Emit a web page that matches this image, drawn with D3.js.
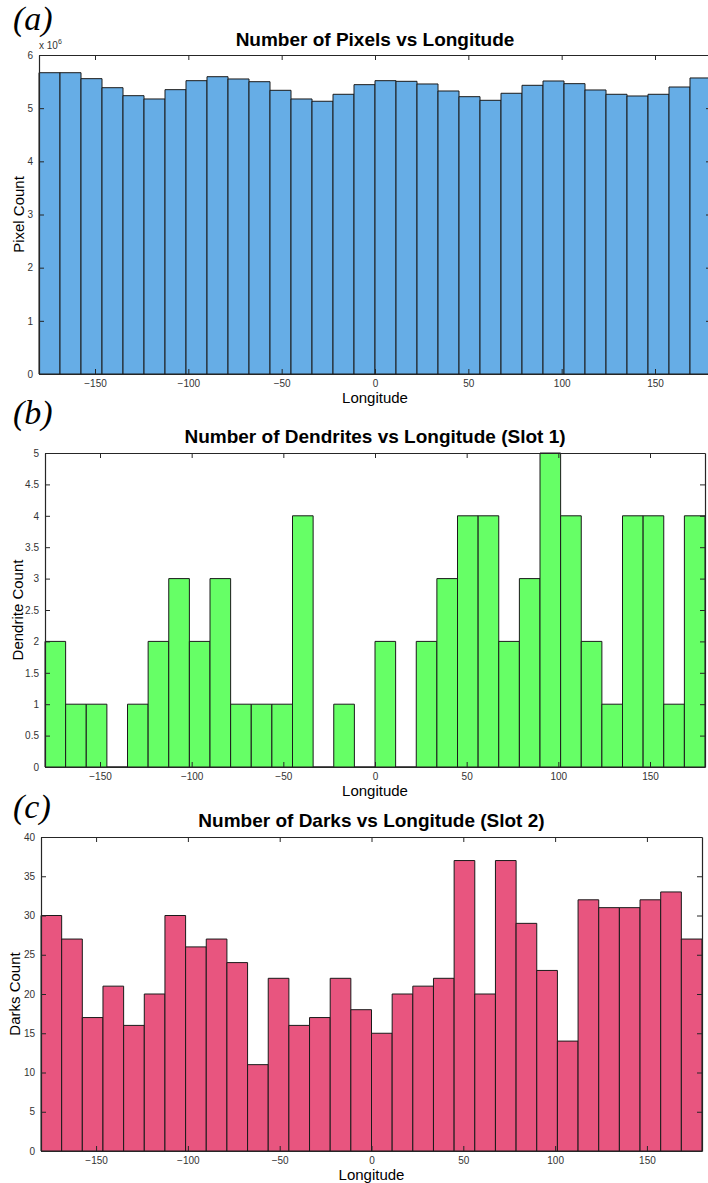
<!DOCTYPE html>
<html>
<head>
<meta charset="utf-8">
<script src="https://cdn.jsdelivr.net/npm/d3@7"></script>
<style>
	body { margin: 0; background: #fff; }
	svg { display: block; }
</style>
</head>
<body>
<script>
// DATA
const binWidth = 11.25;
const binStarts = [-180, -168.75, -157.5, -146.25, -135, -123.75, -112.5, -101.25,
	-90, -78.75, -67.5, -56.25, -45, -33.75, -22.5, -11.25,
	0, 11.25, 22.5, 33.75, 45, 56.25, 67.5, 78.75,
	90, 101.25, 112.5, 123.75, 135, 146.25, 157.5, 168.75];
const xTicks = [-150, -100, -50, 0, 50, 100, 150];

// pixel counts in units of 10^6
const pixelCounts = [5.667, 5.667, 5.555, 5.385, 5.235, 5.173, 5.348, 5.517,
	5.592, 5.549, 5.498, 5.336, 5.173, 5.13, 5.261, 5.442,
	5.517, 5.505, 5.455, 5.323, 5.216, 5.148, 5.28, 5.43,
	5.511, 5.461, 5.342, 5.261, 5.229, 5.261, 5.398, 5.568];
const pixelTicks = [0, 1, 2, 3, 4, 5, 6];

const dendriteCounts = [2, 1, 1, 0, 1, 2, 3, 2,
	3, 1, 1, 1, 4, 0, 1, 0,
	2, 0, 2, 3, 4, 4, 2, 3,
	5, 4, 2, 1, 4, 4, 1, 4];
const dendriteTicks = [0, 0.5, 1, 1.5, 2, 2.5, 3, 3.5, 4, 4.5, 5];

const darkCounts = [30, 27, 17, 21, 16, 20, 30, 26,
	27, 24, 11, 22, 16, 17, 22, 18,
	15, 20, 21, 22, 37, 20, 37, 29,
	23, 14, 32, 31, 31, 32, 33, 27];
const darkTicks = [0, 5, 10, 15, 20, 25, 30, 35, 40];

// CONFIGURATION
const width = 708;
const height = 1183;
const tickLen = 5;
const axisColor = '#262626';
const sans = 'Liberation Sans, Arial, sans-serif';

const panels = [
	{
		tag: '(a)', tagY: 30,
		title: 'Number of Pixels vs Longitude', titleY: 46,
		ylabel: 'Pixel Count', ylabelX: 24,
		values: pixelCounts, yTicks: pixelTicks, fill: '#66ade6',
		left: 39, right: 711, top: 55, bottom: 374, exponent: '6'
	},
	{
		tag: '(b)', tagY: 424,
		title: 'Number of Dendrites vs Longitude (Slot 1)', titleY: 443,
		ylabel: 'Dendrite Count', ylabelX: 23,
		values: dendriteCounts, yTicks: dendriteTicks, fill: '#66ff66',
		left: 45, right: 705, top: 453, bottom: 767
	},
	{
		tag: '(c)', tagY: 818,
		title: 'Number of Darks vs Longitude (Slot 2)', titleY: 827,
		ylabel: 'Darks Count', ylabelX: 20,
		values: darkCounts, yTicks: darkTicks, fill: '#e8557f',
		left: 41, right: 702, top: 837, bottom: 1151
	}
];

// SVG
const svg = d3.select('body')
	.append('svg')
	.attr('width', width)
	.attr('height', height)
	.attr('font-family', sans);

panels.forEach(function(p) {
	const g = svg.append('g');
	const xScale = d3.scaleLinear()
		.domain([-180, 180])
		.range([p.left, p.right]);
	const yScale = d3.scaleLinear()
		.domain([p.yTicks[0], p.yTicks[p.yTicks.length - 1]])
		.range([p.bottom, p.top]);
	const midX = (p.left + p.right) / 2;

	// PANEL TAG
	g.append('text')
		.attr('x', 13)
		.attr('y', p.tagY)
		.attr('font-family', 'Liberation Serif, Times New Roman, serif')
		.attr('font-style', 'italic')
		.attr('font-size', 34)
		.attr('fill', '#000')
		.text(p.tag);

	// TITLE
	g.append('text')
		.attr('x', midX)
		.attr('y', p.titleY)
		.attr('text-anchor', 'middle')
		.attr('font-family', sans)
		.attr('font-weight', 'bold')
		.attr('font-size', 19)
		.attr('fill', '#000')
		.text(p.title);

	// BARS
	g.selectAll('path.bar')
		.data(p.values)
		.enter()
		.append('path')
		.attr('class', 'bar')
		.attr('d', function(v, i) {
			const x0 = xScale(binStarts[i]);
			const x1 = xScale(binStarts[i] + binWidth);
			const y0 = yScale(0);
			const y1 = yScale(v);
			return `M${x0},${y0}V${y1}H${x1}V${y0}Z`;
		})
		.attr('fill', p.fill)
		.attr('stroke', '#1a1a1a')
		.attr('stroke-width', 1);

	// AXES (box with inward ticks)
	const xAxisBottom = d3.axisBottom(xScale)
		.tickValues(xTicks)
		.tickSizeInner(-tickLen)
		.tickSizeOuter(0)
		.tickPadding(6)
		.tickFormat(d3.format('d'));
	const xAxisTop = d3.axisTop(xScale)
		.tickValues(xTicks)
		.tickSizeInner(-tickLen)
		.tickSizeOuter(0)
		.tickFormat('');
	const yAxisLeft = d3.axisLeft(yScale)
		.tickValues(p.yTicks)
		.tickSizeInner(-tickLen)
		.tickSizeOuter(0)
		.tickPadding(6)
		.tickFormat(function(v) { return String(v); });
	const yAxisRight = d3.axisRight(yScale)
		.tickValues(p.yTicks)
		.tickSizeInner(-tickLen)
		.tickSizeOuter(0)
		.tickFormat('');

	const axes = [
		g.append('g').attr('transform', `translate(0, ${p.bottom})`).call(xAxisBottom),
		g.append('g').attr('transform', `translate(0, ${p.top})`).call(xAxisTop),
		g.append('g').attr('transform', `translate(${p.left}, 0)`).call(yAxisLeft),
		g.append('g').attr('transform', `translate(${p.right}, 0)`).call(yAxisRight)
	];
	axes.forEach(function(a) {
		a.attr('font-family', sans).attr('font-size', 10);
		a.select('.domain').attr('stroke', axisColor).attr('stroke-width', 1.2);
		a.selectAll('.tick line').attr('stroke', axisColor);
		a.selectAll('.tick text').attr('fill', '#333');
	});

	// EXPONENT
	if (p.exponent) {
		const ex = g.append('text')
			.attr('x', p.left)
			.attr('y', p.top - 6)
			.attr('font-size', 10)
			.attr('fill', '#333');
		ex.append('tspan').text('x 10');
		ex.append('tspan')
			.attr('dy', -5)
			.attr('font-size', 7)
			.text(p.exponent);
	}

	// LABELS
	g.append('text')
		.attr('x', midX)
		.attr('y', p.bottom + 29)
		.attr('text-anchor', 'middle')
		.attr('font-size', 15)
		.attr('fill', '#000')
		.text('Longitude');
	g.append('text')
		.attr('transform', `translate(${p.ylabelX}, ${(p.top + p.bottom) / 2}) rotate(-90)`)
		.attr('text-anchor', 'middle')
		.attr('font-size', 15)
		.attr('fill', '#000')
		.text(p.ylabel);
});
</script>
</body>
</html>
